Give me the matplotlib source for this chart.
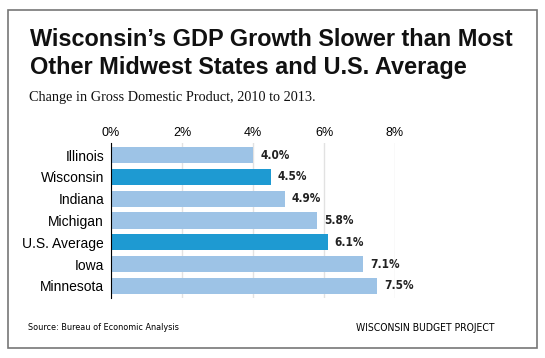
import matplotlib.pyplot as plt
from matplotlib.patches import Rectangle

states = ['Illinois', 'Wisconsin', 'Indiana', 'Michigan', 'U.S. Average', 'Iowa', 'Minnesota']
growth = [4.0, 4.5, 4.9, 5.8, 6.1, 7.1, 7.5]
highlight = ['Wisconsin', 'U.S. Average']
xticks = [0, 2, 4, 6, 8]

light = '#9dc3e6'
dark = '#1e9ad2'

fig = plt.figure(figsize=(5.45, 3.58), dpi=100)
W, H = 545, 358

# outer frame
fig.patches.append(Rectangle((8 / W, 1 - 348 / H), 529 / W, 338 / H, transform=fig.transFigure,
                             fill=False, edgecolor='#777777', linewidth=1.2))

fig.text(30 / W, 1 - 46 / H, "Wisconsin\u2019s GDP Growth Slower than Most", fontsize=16.9,
         fontweight='bold', family='Liberation Sans', va='baseline', color='#111111')
fig.text(30 / W, 1 - 74 / H, "Other Midwest States and U.S. Average", fontsize=16.9,
         fontweight='bold', family='Liberation Sans', va='baseline', color='#111111')
fig.text(29 / W, 1 - 101 / H, "Change in Gross Domestic Product, 2010 to 2013.", fontsize=10.3,
         family='Liberation Serif', va='baseline', color='#111111')

ax = fig.add_axes([111 / W, 1 - 298 / H, 284 / W, 155 / H])
colors = [dark if s in highlight else light for s in states]
ax.barh(range(len(states)), growth, height=0.74, color=colors, zorder=3)
for i, v in enumerate(growth):
    ax.text(v + 0.2, i, '%.1f%%' % v, va='center', ha='left', fontsize=8.5,
            fontweight='bold', family='DejaVu Sans', stretch='condensed',
            color='#222222', clip_on=False)

ax.set_xlim(0, 8)
ax.set_ylim(6.55, -0.55)
ax.set_xticks(xticks)
ax.set_xticklabels(['%d%%' % t for t in xticks], fontsize=9, family='Liberation Sans')
ax.xaxis.tick_top()
ax.set_yticks(range(len(states)))
ax.set_yticklabels(states, fontsize=10, family='Liberation Sans')
ax.tick_params(axis='y', length=0, pad=5)
ax.tick_params(axis='x', length=0, pad=3)
ax.grid(axis='x', color='#e2e2e2', linewidth=1, zorder=0)
for s in ['top', 'right', 'bottom']:
    ax.spines[s].set_visible(False)
ax.spines['left'].set_color('black')
ax.spines['left'].set_zorder(4)

fig.text(28 / W, 1 - 330 / H, "Source: Bureau of Economic Analysis", fontsize=6.5,
         family='DejaVu Sans', stretch='condensed', va='baseline')
fig.text(495 / W, 1 - 331 / H, "WISCONSIN BUDGET PROJECT", fontsize=7.5, ha='right',
         family='DejaVu Sans', stretch='condensed', va='baseline')

fig.savefig('out.png', dpi=100)
